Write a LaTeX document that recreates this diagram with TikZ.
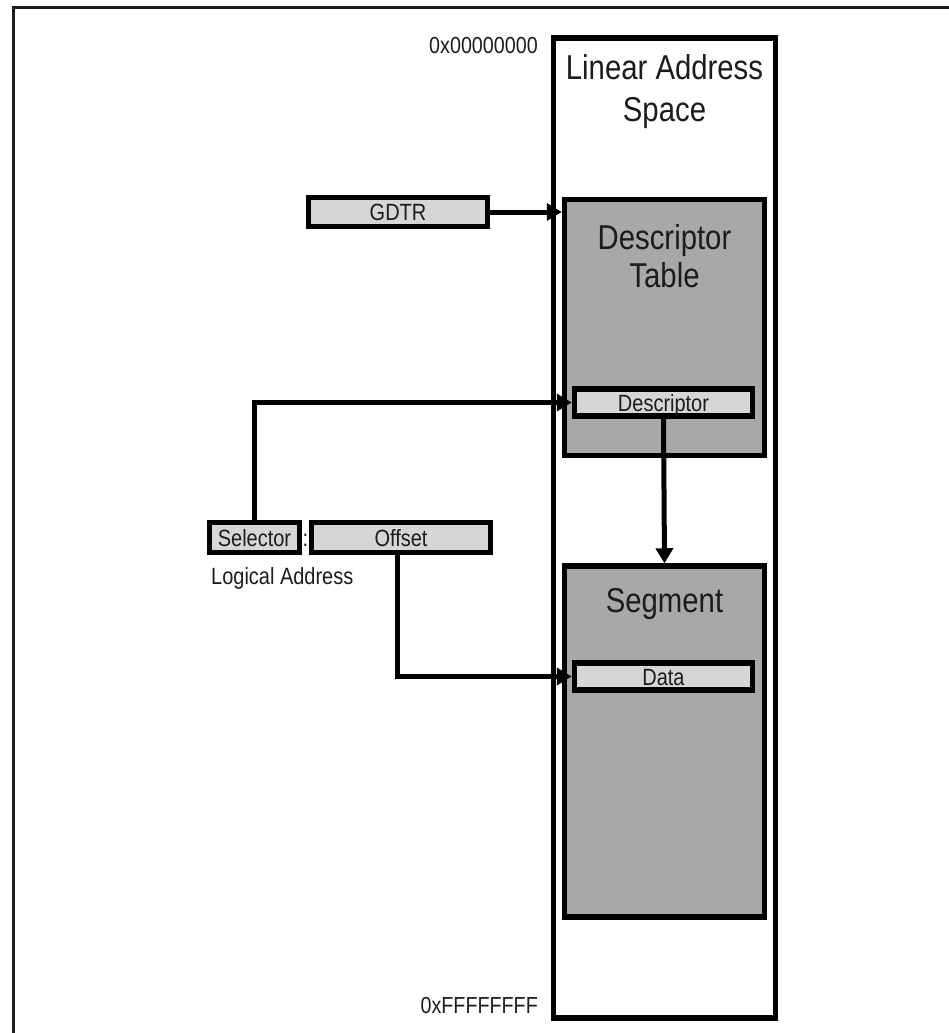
\documentclass[tikz,border=0pt]{standalone}
\usepackage{fontspec}
\newfontfamily\cf[FakeStretch=0.85]{Liberation Sans}
\usetikzlibrary{arrows.meta}
\definecolor{midgray}{HTML}{A8A8A8}
\definecolor{lightgray}{HTML}{D6D6D6}
\definecolor{inkc}{HTML}{1C1C1C}
\tikzset{
  colbox/.style={draw=black, line width=5.5pt, fill=white, rectangle, inner sep=0pt},
  graybox/.style={draw=black, line width=5.5pt, fill=midgray, rectangle, inner sep=0pt},
  regbox/.style={draw=black, line width=5.5pt, fill=lightgray, rectangle, inner sep=0pt},
  bigtxt/.style={inner sep=0pt, anchor=base, text=inkc, font=\cf\fontsize{34.5}{40}\selectfont},
  smalltxt/.style={inner sep=0pt, anchor=base, text=inkc, font=\cf\fontsize{23.5}{28}\selectfont},
  addrtxt/.style={inner sep=0pt, anchor=base east, text=inkc, font=\cf\fontsize{23.2}{28}\selectfont},
  conn/.style={draw=black, line width=5pt},
  arr/.style={conn, -{Triangle[length=15pt,width=17pt]}},
}
\begin{document}
\begin{tikzpicture}[x=1pt,y=-1pt]
\useasboundingbox (0,0) rectangle (949,1033);
% outer frame (only top and left visible)
\draw[line width=2.5pt, draw=inkc] (13.5,1033) -- (13.5,7.5) -- (949,7.5);

% linear address space column
\node[colbox, minimum width=222pt, minimum height=980pt] (lin) at (664.5,528) {};
\node[bigtxt] (lintxt1) at (664.5,80) {Linear Address};
\node[bigtxt] (lintxt2) at (664.5,121) {Space};
\node[addrtxt] (top) at (538,53) {0x00000000};
\node[addrtxt] (bot) at (538,1013) {0xFFFFFFFF};

% descriptor table
\node[graybox, minimum width=200pt, minimum height=256pt] (dt) at (664.5,327.5) {};
\node[bigtxt] (dttxt1) at (664.5,249.5) {Descriptor};
\node[bigtxt] (dttxt2) at (664.5,287.5) {Table};
\node[regbox, minimum width=178pt, minimum height=27pt] (desc) at (663.5,402.5) {};
\node[smalltxt] (desctxt) at (663.5,411) {Descriptor};

% segment
\node[graybox, minimum width=200pt, minimum height=351pt] (seg) at (664.5,741.5) {};
\node[bigtxt] (segtxt) at (664.5,612) {Segment};
\node[regbox, minimum width=178pt, minimum height=27pt] (data) at (663.5,676.5) {};
\node[smalltxt] (datatxt) at (663.5,685) {Data};

% GDTR
\node[regbox, minimum width=179pt, minimum height=29pt] (gdtr) at (398,212) {};
\node[smalltxt] (gdtrtxt) at (398,220.5) {GDTR};

% logical address
\node[regbox, minimum width=90pt, minimum height=30pt] (sel) at (254.5,537.5) {};
\node[smalltxt] (seltxt) at (254.5,546) {Selector};
\node[smalltxt] (colon) at (305.5,546) {:};
\node[regbox, minimum width=179pt, minimum height=30pt] (off) at (401,537.5) {};
\node[smalltxt] (offtxt) at (401,546) {Offset};
\node[smalltxt, anchor=base west] (logtxt) at (211,584) {Logical Address};

% connectors
\draw[arr] (gdtr.east) -- (gdtr.east -| dt.west);
\draw[arr] (sel.north) |- (desc.west);
\draw[arr] ([xshift=-3.5pt]off.south) |- (data.west);
\draw[arr] (desc.south) -- (seg.north);
\end{tikzpicture}
\end{document}
